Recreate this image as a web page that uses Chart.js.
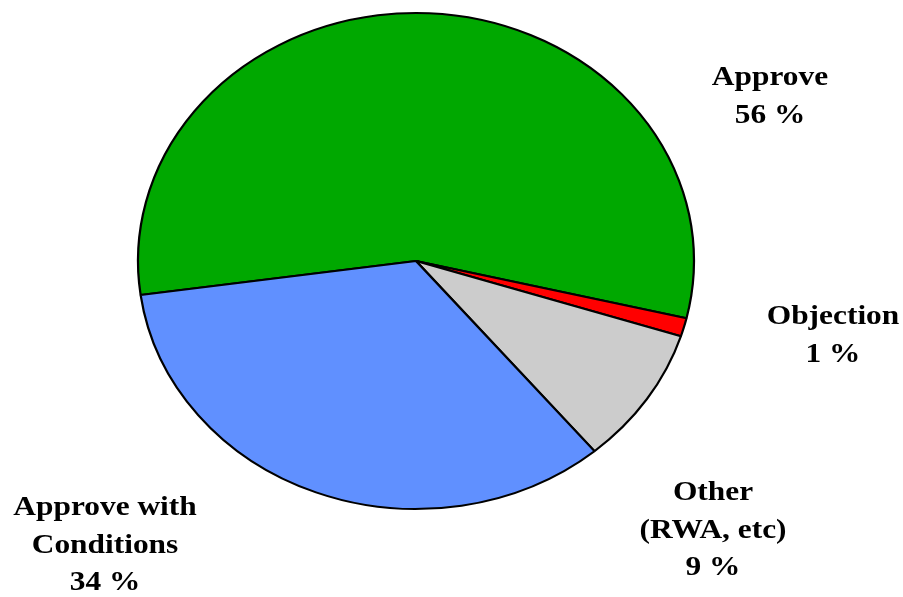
<!DOCTYPE html>
<html>
<head>
<meta charset="utf-8">
<script src="https://cdn.jsdelivr.net/npm/chart.js@4.4.1/dist/chart.umd.min.js"></script>
<style>
  body { margin: 0; background: #fff; }
  #wrap { width: 903px; height: 597px; }
</style>
</head>
<body>
<div id="wrap"><canvas id="pieChart" width="903" height="597"></canvas></div>
<script>
// slice data (order goes clockwise from the left edge)
const categories = ['Approve', 'Objection', 'Other (RWA, etc)', 'Approve with Conditions'];
const shares = [55.9, 1.2, 9.0, 33.9];
const shownPct = ['56 %', '1 %', '9 %', '34 %'];
const sliceColors = ['#00A800', '#FF0000', '#CCCCCC', '#6090FF'];

// label text lines and where they sit
const labelLines = [
    ['Approve', '56 %'],
    ['Objection', '1 %'],
    ['Other', '(RWA, etc)', '9 %'],
    ['Approve with', 'Conditions', '34 %']
];
const labelPos = [[770, 78], [833, 317], [713, 493], [105, 508]];

// the original picture is stretched sideways: pie is an ellipse, text is wide
const stretchX = 278 / 248;

const ellipsePlugin = {
    id: 'ellipse',
    beforeDatasetsDraw(chart) {
        const arc = chart.getDatasetMeta(0).data[0];
        const ctx = chart.ctx;
        ctx.save();
        ctx.translate(arc.x, arc.y);
        ctx.scale(stretchX, 1);
        ctx.translate(-arc.x, -arc.y);
    },
    afterDatasetsDraw(chart) {
        chart.ctx.restore();
    }
};

const labelPlugin = {
    id: 'sliceLabels',
    afterDraw(chart) {
        const ctx = chart.ctx;
        labelLines.forEach((lines, i) => {
            const [x, y] = labelPos[i];
            lines.forEach((t, j) => {
                ctx.save();
                ctx.translate(x, y + j * 37.5);
                ctx.scale(stretchX, 1);
                ctx.fillStyle = '#000';
                ctx.font = 'bold 28px "Liberation Serif", "Times New Roman", serif';
                ctx.textAlign = 'center';
                ctx.textBaseline = 'middle';
                ctx.fillText(t, 0, 0);
                ctx.restore();
            });
        });
    }
};

const ctx = document.getElementById('pieChart').getContext('2d');
const pieChart = new Chart(ctx, {
    type: 'pie',
    data: {
        labels: categories,
        datasets: [{
            data: shares,
            backgroundColor: sliceColors,
            borderColor: '#000',
            borderWidth: 2
        }]
    },
    options: {
        responsive: false,
        animation: false,
        rotation: 262.1,
        layout: {
            padding: { left: 116, right: 187, top: 12, bottom: 87 }
        },
        plugins: {
            legend: { display: false },
            tooltip: { enabled: false }
        }
    },
    plugins: [ellipsePlugin, labelPlugin]
});
</script>
</body>
</html>
